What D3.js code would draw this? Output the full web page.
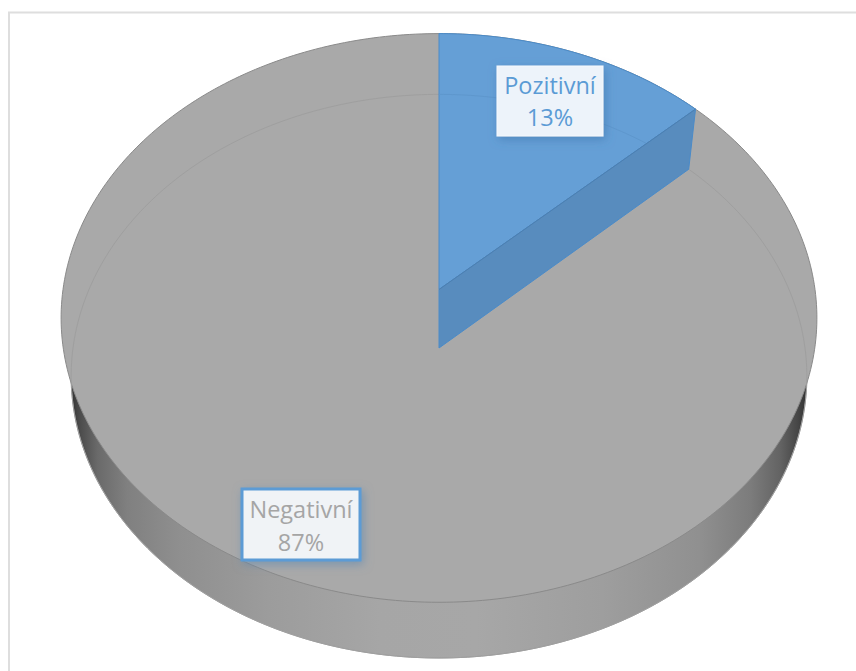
<!DOCTYPE html>
<html>
<head>
<meta charset="utf-8">
<script src="https://cdn.jsdelivr.net/npm/d3@7"></script>
<style>
  html, body { margin: 0; padding: 0; background: #fff; }
  svg { display: block; }
</style>
</head>
<body>
<svg id="chart" width="856" height="671"></svg>
<script>
// Share of responses by sentiment
const categories = ["Pozitivní", "Negativní"];
const values = [13, 87];

const width = 856, height = 671;

// Perspective discs for the upper and lower faces of the pie
const topDisc = { cx: 439, cy: 289.5, a: 376, k: 281.5, p: 0.1 };
const bottomDisc = { cx: 439, cy: 348, a: 366, k: 279, p: 0.1 };

const labelBoxes = [
  { x: 497, y: 66, w: 106, h: 70, fill: "#edf3fa", stroke: "#f5f9fd", sw: 1, color: "#5b9bd5", base: [28, 60] },
  { x: 242, y: 489, w: 118, h: 71, fill: "#f0f3f6", stroke: "#5b9bd5", sw: 3, color: "#a5a5a5", base: [29, 62] }
];

const project = (disc, angle) => {
  const u = Math.sin(angle), v = -Math.cos(angle), w = 1 - disc.p * v;
  return [disc.cx + disc.a * u / w, disc.cy + disc.k * v / w];
};

const svg = d3.select("#chart");
const line = d3.line();
const defs = svg.append("defs");

// Side wall shading: dark at the silhouette, lighter towards the viewer
const wall = defs.append("linearGradient").attr("id", "wall")
  .attr("gradientUnits", "userSpaceOnUse")
  .attr("x1", 68).attr("x2", 810).attr("y1", 0).attr("y2", 0);
[[0, "#2a2a2a"], [0.015, "#4a4a4a"], [0.04, "#6a6a6a"], [0.08, "#808080"], [0.15, "#8f8f8f"],
 [0.27, "#9c9c9c"], [0.42, "#a6a6a6"], [0.55, "#a7a7a7"], [0.72, "#9e9e9e"], [0.85, "#909090"],
 [0.92, "#7c7c7c"], [0.96, "#636363"], [0.985, "#444444"], [1, "#2a2a2a"]]
  .forEach(([o, c]) => wall.append("stop").attr("offset", o).attr("stop-color", c));

const shadow = (id, color) => defs.append("filter").attr("id", id)
  .attr("x", "-25%").attr("y", "-25%").attr("width", "150%").attr("height", "160%")
  .append("feDropShadow").attr("dx", 2).attr("dy", 3).attr("stdDeviation", 5)
  .attr("flood-color", color).attr("flood-opacity", 0.6);
shadow("shadow0", "#3f77ad");
shadow("shadow1", "#5b87b0");

// Chart frame: only the top and left edges fall inside the page
svg.append("path")
  .attr("d", line([[9, height], [9, 12.5], [width, 12.5]]))
  .attr("fill", "none").attr("stroke", "#dedede").attr("stroke-width", 2);

const turn = d3.range(0, 361).map(d => d * Math.PI / 180);
const ring = disc => line(turn.map(t => project(disc, t))) + "Z";

svg.append("path").attr("d", ring(bottomDisc))
  .attr("fill", "url(#wall)").attr("stroke", "#9a9a9a").attr("stroke-width", 0.8);
svg.append("path").attr("d", ring(topDisc))
  .attr("fill", "#a9a9a9").attr("stroke", "#8a8a8a").attr("stroke-width", 1);

// Far rim of the lower face, faintly visible through the top
svg.append("path").attr("d", ring(bottomDisc))
  .attr("fill", "none").attr("stroke", "#9f9f9f").attr("stroke-width", 1);

const arcs = d3.pie().sort(null)(values);
const positive = arcs[0];
const rimPoints = disc => d3.range(0, 61).map(i =>
  project(disc, positive.startAngle + (positive.endAngle - positive.startAngle) * i / 60));

// Raised slice: top face plus the cut face running down to the lower disc
svg.append("path")
  .attr("d", line([[topDisc.cx, topDisc.cy], ...rimPoints(topDisc)]) + "Z")
  .attr("fill", "#659fd6").attr("stroke", "#4a8bc9").attr("stroke-width", 1);

// Faint rim continues through the raised slice
svg.append("path").attr("d", line(rimPoints(bottomDisc)))
  .attr("fill", "none").attr("stroke", "#5e97cd").attr("stroke-width", 1);

const endTop = project(topDisc, positive.endAngle);
const endBottom = project(bottomDisc, positive.endAngle);
svg.append("path")
  .attr("d", line([[topDisc.cx, topDisc.cy], endTop, endBottom, [bottomDisc.cx, bottomDisc.cy]]) + "Z")
  .attr("fill", "#588cbe").attr("stroke", "#4a8bc9").attr("stroke-width", 1).attr("stroke-linejoin", "round");
svg.append("path")
  .attr("d", line([[topDisc.cx, topDisc.cy], endTop]))
  .attr("fill", "none").attr("stroke", "#4f7fae").attr("stroke-width", 1);

// Data labels
const labels = svg.selectAll("g.label").data(arcs).join("g").attr("class", "label");
labels.append("rect")
  .attr("x", (d, i) => labelBoxes[i].x).attr("y", (d, i) => labelBoxes[i].y)
  .attr("width", (d, i) => labelBoxes[i].w).attr("height", (d, i) => labelBoxes[i].h)
  .attr("fill", (d, i) => labelBoxes[i].fill)
  .attr("stroke", (d, i) => labelBoxes[i].stroke)
  .attr("stroke-width", (d, i) => labelBoxes[i].sw)
  .attr("filter", (d, i) => `url(#shadow${i})`);
const text = labels.append("text")
  .attr("text-anchor", "middle")
  .attr("font-family", "'Open Sans', sans-serif")
  .attr("font-size", 23.5)
  .attr("fill", (d, i) => labelBoxes[i].color);
text.append("tspan")
  .attr("x", (d, i) => labelBoxes[i].x + labelBoxes[i].w / 2)
  .attr("y", (d, i) => labelBoxes[i].y + labelBoxes[i].base[0])
  .text((d, i) => categories[i]);
text.append("tspan")
  .attr("x", (d, i) => labelBoxes[i].x + labelBoxes[i].w / 2)
  .attr("y", (d, i) => labelBoxes[i].y + labelBoxes[i].base[1])
  .text(d => d.value + "%");
</script>
</body>
</html>
